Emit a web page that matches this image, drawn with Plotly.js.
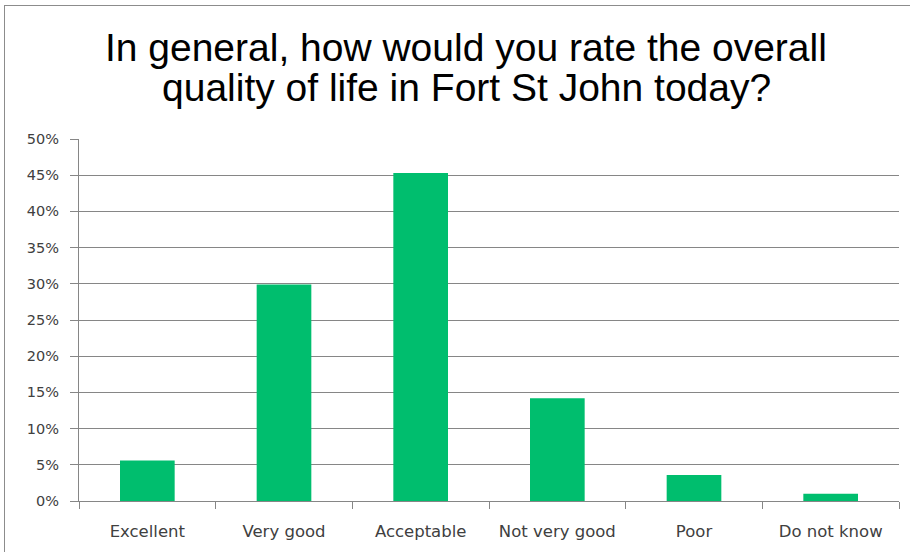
<!DOCTYPE html>
<html>
<head>
<meta charset="utf-8">
<script src="https://cdn.plot.ly/plotly-3.0.1.min.js"></script>
<style>
html,body{margin:0;padding:0;background:#fff;}
#wrap{position:relative;width:910px;height:552px;overflow:hidden;}
#chart{width:910px;height:552px;}
#frame{position:absolute;left:4px;top:5px;width:1000px;height:1000px;border-left:1.5px solid #8c8c8c;border-top:1.5px solid #8c8c8c;pointer-events:none;}
</style>
</head>
<body>
<div id="wrap"><div id="chart"></div><div id="frame"></div></div>
<script>
const categories = ["Excellent", "Very good", "Acceptable", "Not very good", "Poor", "Do not know"];
const shares = [0.056, 0.299, 0.453, 0.142, 0.036, 0.010];
const yTickValues = [0, 0.05, 0.10, 0.15, 0.20, 0.25, 0.30, 0.35, 0.40, 0.45, 0.50];
const yTickLabels = ["0%", "5%", "10%", "15%", "20%", "25%", "30%", "35%", "40%", "45%", "50%"];
const titleLine1 = "In general, how would you rate the overall";
const titleLine2 = "quality of life in Fort St John today?";

const titleFont = {family: "Liberation Sans, Arial, sans-serif", size: 39, color: "#000000"};

const trace = {
  type: "bar",
  x: categories,
  y: shares,
  marker: {color: "#00be6e", line: {width: 0}},
  hoverinfo: "skip"
};

const layout = {
  width: 910, height: 552,
  paper_bgcolor: "#ffffff", plot_bgcolor: "#ffffff",
  margin: {l: 79, r: 11, t: 139, b: 51, pad: 0},
  bargap: 0.6,
  showlegend: false,
  title: {
    text: titleLine1,
    font: titleFont,
    x: 0.512, xanchor: "center", xref: "container",
    y: 1 - 47.5 / 552, yanchor: "middle", yref: "container"
  },
  annotations: [{
    text: titleLine2,
    font: titleFont,
    xref: "paper", yref: "paper",
    x: (466 - 79) / 820, xanchor: "center",
    y: 1 + (139 - 87.5) / 362, yanchor: "middle",
    showarrow: false
  }],
  xaxis: {
    type: "category",
    showgrid: false,
    showline: true, linecolor: "#868686", linewidth: 1,
    ticks: "outside", tickson: "boundaries", ticklen: 7, tickcolor: "#868686", tickwidth: 1,
    tickfont: {family: "DejaVu Sans, sans-serif", size: 16.5, color: "#404040"},
    ticklabelstandoff: 15,
    fixedrange: true
  },
  yaxis: {
    range: [0, 0.5],
    tickvals: yTickValues, ticktext: yTickLabels,
    showgrid: true, gridcolor: "#868686", gridwidth: 1,
    showline: true, linecolor: "#868686", linewidth: 1,
    ticks: "outside", ticklen: 8, tickcolor: "#868686", tickwidth: 1,
    tickfont: {family: "DejaVu Sans, sans-serif", size: 14.5, color: "#404040"},
    ticklabelstandoff: 8,
    zeroline: false,
    fixedrange: true
  }
};

Plotly.newPlot("chart", [trace], layout, {displayModeBar: false, staticPlot: true});
</script>
</body>
</html>
